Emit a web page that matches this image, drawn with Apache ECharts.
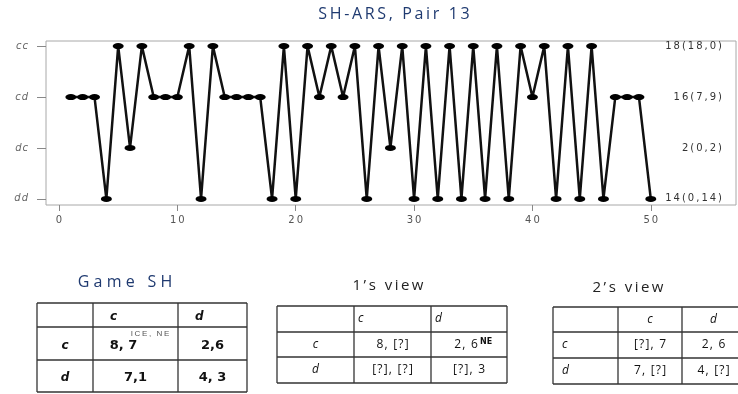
<!DOCTYPE html>
<html>
<head>
<meta charset="utf-8">
<script src="https://cdn.jsdelivr.net/npm/echarts@6/dist/echarts.min.js"></script>
<style>html,body{margin:0;padding:0;background:#fff}#main{width:738px;height:394px}</style>
</head>
<body>
<div id="main"></div>
<script>
// outcome categories, bottom to top
const outcomes = ['dd', 'dc', 'cd', 'cc'];
// counts shown on the right
const outcomeCounts = ['14(0,14)', '2(0,2)', '16(7,9)', '18(18,0)'];
// outcome of each round, 1..50
const choices = [
    'cd', 'cd', 'cd', 'dd', 'cc', 'dc', 'cc', 'cd', 'cd', 'cd',
    'cc', 'dd', 'cc', 'cd', 'cd', 'cd', 'cd', 'dd', 'cc', 'dd',
    'cc', 'cd', 'cc', 'cd', 'cc', 'dd', 'cc', 'dc', 'cc', 'dd',
    'cc', 'dd', 'cc', 'dd', 'cc', 'dd', 'cc', 'dd', 'cc', 'cd',
    'cc', 'dd', 'cc', 'dd', 'cc', 'dd', 'cd', 'cd', 'cd', 'dd'
];
const xTicks = [0, 10, 20, 30, 40, 50];
const yTicks = [0, 1, 2, 3];

// payoff tables
const gameTitle = 'Game SH';
const gameTable = [['', 'c', 'd'], ['c', '8, 7', '2,6'], ['d', '7,1', '4, 3']];
const gameNote = 'ICE, NE';
const view1Title = '1’s view';
const view1Table = [['', 'c', 'd'], ['c', '8, [?]', '2, 6'], ['d', '[?], [?]', '[?], 3']];
const view1Note = 'NE';
const view2Title = '2’s view';
const view2Table = [['', 'c', 'd'], ['c', '[?], 7', '2, 6'], ['d', '7, [?]', '4, [?]']];

const navy = '#1f3a70';
const spaced = (s, sp) => s.split('').join(sp);

const chart = echarts.init(document.getElementById('main'));

// 画表格：线 + 文字
function tableGraphics(cols, rows, cells, opts) {
    const els = [];
    const lineStyle = { stroke: '#333', lineWidth: 1.3 };
    cols.forEach(x => els.push({ type: 'line', shape: { x1: x, y1: rows[0], x2: x, y2: rows[rows.length - 1] }, style: lineStyle }));
    rows.forEach(y => els.push({ type: 'line', shape: { x1: cols[0], y1: y, x2: cols[cols.length - 1], y2: y }, style: lineStyle }));
    cells.forEach((row, r) => {
        row.forEach((txt, c) => {
            if (!txt) return;
            const cy = (rows[r] + rows[r + 1]) / 2 + (opts.dy || 0);
            let x, align;
            if (r === 0) {
                align = opts.headAlign;
                x = align === 'left' ? cols[c] + opts.headPad : (cols[c] + cols[c + 1]) / 2;
            } else if (c === 0) {
                align = opts.rowAlign;
                x = align === 'left' ? cols[c] + opts.rowPad : (cols[c] + cols[c + 1]) / 2;
            } else {
                align = 'center';
                x = (cols[c] + cols[c + 1]) / 2 + ((opts.shift || {})[r + ',' + c] || 0);
            }
            const isLabel = r === 0 || c === 0;
            els.push({
                type: 'text', x: x, y: cy,
                style: {
                    text: isLabel ? txt : spaced(txt, opts.valueSp || ''),
                    align: align, verticalAlign: 'middle', fill: '#111',
                    font: isLabel ? opts.labelFont : opts.valueFont
                }
            });
        });
    });
    return els;
}

const graphics = [].concat(
    [{ type: 'text', x: 394, y: 14, style: { text: spaced('SH-ARS, Pair 13', '\u2009'), align: 'center', verticalAlign: 'middle', fill: navy, font: '16px "Open Sans"' } },
     { type: 'text', x: 125, y: 282, style: { text: spaced(gameTitle, '\u2009\u200a'), align: 'center', verticalAlign: 'middle', fill: navy, font: '16px "Open Sans"' } },
     { type: 'text', x: 388, y: 286, style: { text: spaced(view1Title, '\u2009'), align: 'center', verticalAlign: 'middle', fill: '#222', font: '15px "Open Sans"' } },
     { type: 'text', x: 628, y: 288, style: { text: spaced(view2Title, '\u2009'), align: 'center', verticalAlign: 'middle', fill: '#222', font: '15px "Open Sans"' } }],
    tableGraphics([37, 93, 178, 247], [303, 327, 360, 392], gameTable, {
        headAlign: 'left', headPad: 17, rowAlign: 'center', dy: 2, shift: { '1,1': -12 },
        labelFont: 'italic bold 12px "DejaVu Sans"', valueFont: 'bold 13px "DejaVu Sans"'
    }),
    [{ type: 'text', x: 150, y: 334, style: { text: spaced(gameNote, '\u2009'), align: 'center', verticalAlign: 'middle', fill: '#555', font: '8px "Liberation Sans"' } }],
    tableGraphics([277, 354, 431, 507], [306, 332, 357, 383], view1Table, {
        headAlign: 'left', headPad: 4, rowAlign: 'center', valueSp: '\u200a', shift: { '1,2': -3 },
        labelFont: 'italic 12px "Open Sans"', valueFont: '12px "Open Sans"'
    }),
    [{ type: 'text', x: 480, y: 342, style: { text: view1Note, align: 'left', verticalAlign: 'middle', fill: '#111', font: 'bold 8px "DejaVu Sans"' } }],
    tableGraphics([553, 618, 682, 745], [307, 332, 358, 384], view2Table, {
        headAlign: 'center', rowAlign: 'left', rowPad: 9, valueSp: '\u200a',
        labelFont: 'italic 12px "Open Sans"', valueFont: '12px "Open Sans"'
    })
);

const option = {
    backgroundColor: '#fff',
    animation: false,
    grid: { left: 46, top: 41, right: 2, bottom: 189, show: true, borderColor: '#a8a8a8', borderWidth: 1 },
    xAxis: {
        type: 'value', min: -1.1, max: 57.2,
        axisLine: { show: false, onZero: false },
        splitLine: { show: false },
        axisTick: { show: true, length: 6, customValues: xTicks, lineStyle: { color: '#888' } },
        axisLabel: {
            customValues: xTicks, formatter: v => spaced(String(v), '\u2009'),
            color: '#555', fontSize: 10, fontFamily: 'DejaVu Sans', margin: 10
        }
    },
    yAxis: [{
        type: 'value', min: -0.12, max: 3.1,
        axisLine: { show: false, onZero: false },
        splitLine: { show: false },
        axisTick: { show: true, length: 9, customValues: yTicks, lineStyle: { color: '#888' } },
        axisLabel: {
            customValues: yTicks, formatter: v => spaced(outcomes[v], '\u200a'),
            color: '#666', fontSize: 10, fontFamily: 'DejaVu Sans', fontStyle: 'italic', margin: 18
        }
    }, {
        type: 'value', min: -0.12, max: 3.1, position: 'right',
        axisLine: { show: false, onZero: false },
        splitLine: { show: false },
        axisTick: { show: false },
        axisLabel: {
            inside: true, customValues: yTicks, formatter: v => spaced(outcomeCounts[v], '\u2009'),
            color: '#333', fontSize: 10, fontFamily: 'DejaVu Sans', margin: 14
        }
    }],
    series: [{
        type: 'line',
        data: choices.map((c, i) => [i + 1, outcomes.indexOf(c)]),
        symbol: 'circle',
        symbolSize: [11, 6],
        lineStyle: { color: '#111', width: 2.5 },
        itemStyle: { color: '#000' }
    }],
    graphic: graphics
};

chart.setOption(option);
</script>
</body>
</html>
